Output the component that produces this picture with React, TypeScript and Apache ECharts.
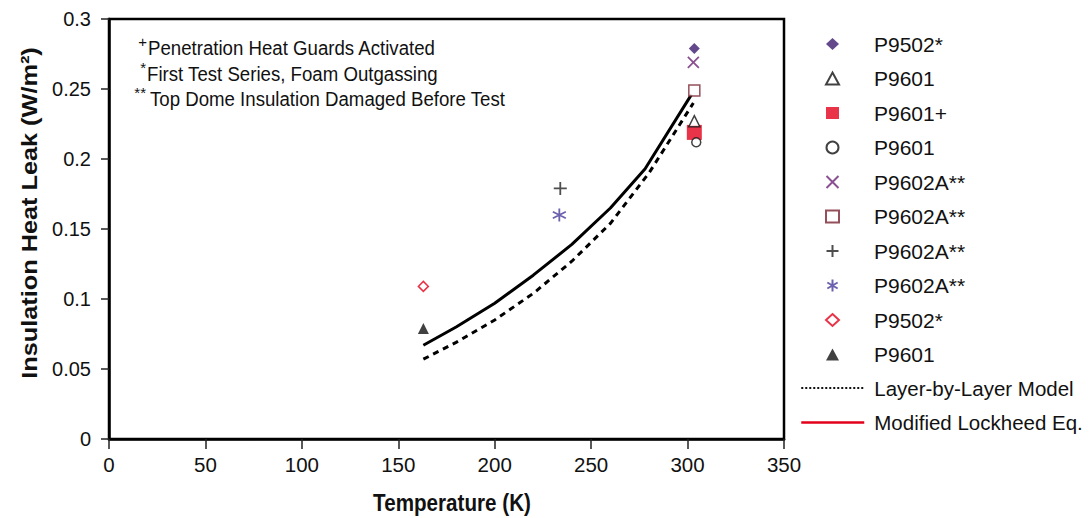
import React, { useEffect, useRef } from "react";
import * as echarts from "echarts";

const FONT = "'Liberation Sans', Arial, sans-serif";

// Scatter points [temperature K, heat leak W/m2]
const pointNames = [
  "P9502*#1", "P9601#1", "P9601+", "P9601#2", "P9602A**#1",
  "P9602A**#2", "P9602A**#3", "P9602A**#4", "P9502*#2", "P9601#3",
];
const pointX = [303.5, 303.5, 303.5, 304.5, 303, 303.5, 234, 233.5, 163, 163];
const pointY = [0.279, 0.227, 0.219, 0.212, 0.269, 0.249, 0.179, 0.160, 0.109, 0.079];

// Model curves
const lineNames = ["Layer-by-Layer Model", "Modified Lockheed Eq."];
const lockheedX = [163, 180, 200, 220, 240, 260, 278, 302];
const lockheedY = [0.067, 0.080, 0.097, 0.117, 0.139, 0.165, 0.193, 0.246];
const layerX = [163, 180, 200, 220, 240, 260, 280, 303];
const layerY = [0.057, 0.069, 0.085, 0.104, 0.127, 0.154, 0.190, 0.240];

const xTicks = { min: 0, max: 350, interval: 50 };
const yTicks = { min: 0, max: 0.3, interval: 0.05 };

const notes = [
  { sup: "+", text: "Penetration Heat Guards Activated" },
  { sup: "*", text: "First Test Series, Foam Outgassing" },
  { sup: "**", text: "Top Dome Insulation Damaged Before Test" },
];

const CROSS = "path://M0,0L10,10M10,0L0,10";
const PLUS = "path://M5,0L5,10M0,5L10,5";
const STAR = "path://M5,0L5,10M0.7,2.5L9.3,7.5M9.3,2.5L0.7,7.5";

const pointStyles: any[] = [
  { symbol: "diamond", size: 11, itemStyle: { color: "#3c1a6e" } },
  { symbol: "triangle", size: 11, itemStyle: { color: "#fff", borderColor: "#111", borderWidth: 1.5 } },
  { symbol: "rect", size: 15, itemStyle: { color: "#e2001a" } },
  { symbol: "circle", size: 9, itemStyle: { color: "#fff", borderColor: "#111", borderWidth: 1.5 } },
  { symbol: CROSS, size: 11, itemStyle: { color: "transparent", borderColor: "#6e2475", borderWidth: 1.8 } },
  { symbol: "rect", size: 11, itemStyle: { color: "#fff", borderColor: "#7b2331", borderWidth: 1.5 } },
  { symbol: PLUS, size: 13, itemStyle: { color: "transparent", borderColor: "#222", borderWidth: 1.8 } },
  { symbol: STAR, size: 13, itemStyle: { color: "transparent", borderColor: "#463a9a", borderWidth: 1.8 } },
  { symbol: "diamond", size: 10, itemStyle: { color: "#fff", borderColor: "#e2001a", borderWidth: 1.5 } },
  { symbol: "triangle", size: 11, itemStyle: { color: "#111" } },
];

export default function App() {
  const ref = useRef<HTMLDivElement>(null);
  useEffect(() => {
    document.body.style.margin = "0";
    const chart = echarts.init(ref.current!, null, { renderer: "svg" });

    const scatterSeries = pointNames.map((name, i) => ({
      type: "scatter",
      name,
      data: [[pointX[i], pointY[i]]],
      symbol: pointStyles[i].symbol,
      symbolSize: pointStyles[i].size,
      itemStyle: pointStyles[i].itemStyle,
      z: i === 2 ? 3 : 4,
    }));

    const noteGraphics: any[] = [];
    const supX = [147, 146, 146];
    const txtX = [148, 147, 150];
    const rowY = [48, 74, 99];
    notes.forEach((n, i) => {
      noteGraphics.push({
        type: "text", x: supX[i], y: rowY[i] - 7,
        style: { text: n.sup, font: `15px ${FONT}`, fill: "#111", align: "right", verticalAlign: "middle" },
      });
      noteGraphics.push({
        type: "text", x: txtX[i], y: rowY[i], scaleX: 0.888,
        style: { text: n.text, font: `21px ${FONT}`, fill: "#111", align: "left", verticalAlign: "middle" },
      });
    });

    const option: any = {
      animation: false,
      backgroundColor: "#fff",
      grid: { left: 109, top: 19, width: 675, height: 420, show: true, borderColor: "#000", borderWidth: 2.5, outerBoundsMode: "none" },
      xAxis: {
        type: "value",
        ...xTicks,
        axisLine: { show: true, lineStyle: { color: "#000", width: 2.5 } },
        axisTick: { show: true, length: 10, lineStyle: { color: "#222", width: 1.5 } },
        axisLabel: { fontFamily: FONT, fontSize: 20.5, color: "#111", margin: 15 },
        splitLine: { show: false },
      },
      yAxis: {
        type: "value",
        ...yTicks,
        axisLine: { show: true, lineStyle: { color: "#000", width: 2.5 } },
        axisTick: { show: true, length: 8, lineStyle: { color: "#222", width: 1.5 } },
        axisLabel: { fontFamily: FONT, fontSize: 20, color: "#111", margin: 18 },
        splitLine: { show: false },
      },
      legend: [
        {
          orient: "vertical",
          left: 820,
          top: 27,
          itemWidth: 13,
          itemHeight: 12,
          itemGap: 10.5,
          formatter: (name: string) => name.replace(/#\d+$/, ""),
          textStyle: { fontFamily: FONT, fontSize: 21, color: "#111", lineHeight: 24, padding: [0, 0, 0, 30] },
          data: pointNames.map((n) => ({ name: n })),
        },
        {
          orient: "vertical",
          left: 795,
          top: 371,
          itemWidth: 63,
          itemHeight: 12,
          itemGap: 10.5,
          textStyle: { fontFamily: FONT, fontSize: 20.5, color: "#111", lineHeight: 24, padding: [0, 0, 0, 5] },
          data: [
            { name: lineNames[0], lineStyle: { type: "dotted", width: 2, color: "#111" }, itemStyle: { color: "rgba(0,0,0,0)", borderWidth: 0 } },
            { name: lineNames[1], lineStyle: { type: "solid", width: 2.5, color: "#e2001a" }, itemStyle: { color: "rgba(0,0,0,0)", borderWidth: 0 } },
          ],
        },
      ],
      graphic: [
        ...noteGraphics,
        {
          type: "text", x: 452, y: 503, scaleX: 0.86,
          style: { text: "Temperature (K)", font: `bold 24px ${FONT}`, fill: "#111", align: "center", verticalAlign: "middle" },
        },
        {
          type: "text", x: 30, y: 213, rotation: Math.PI / 2, scaleX: 1.15,
          style: { text: "Insulation Heat Leak (W/m²)", font: `bold 22px ${FONT}`, fill: "#111", align: "center", verticalAlign: "middle" },
        },
      ],
      series: [
        ...scatterSeries,
        {
          type: "line",
          name: lineNames[0],
          data: layerX.map((x, i) => [x, layerY[i]]),
          symbol: "none",
          itemStyle: { color: "#000" },
          lineStyle: { color: "#000", width: 3, type: [6, 5] },
          z: 2,
        },
        {
          type: "line",
          name: lineNames[1],
          data: lockheedX.map((x, i) => [x, lockheedY[i]]),
          symbol: "none",
          itemStyle: { color: "#000" },
          lineStyle: { color: "#000", width: 3 },
          z: 2,
        },
      ],
    };
    chart.setOption(option);
    return () => chart.dispose();
  }, []);
  return <div ref={ref} style={{ width: 1089, height: 518 }} />;
}
